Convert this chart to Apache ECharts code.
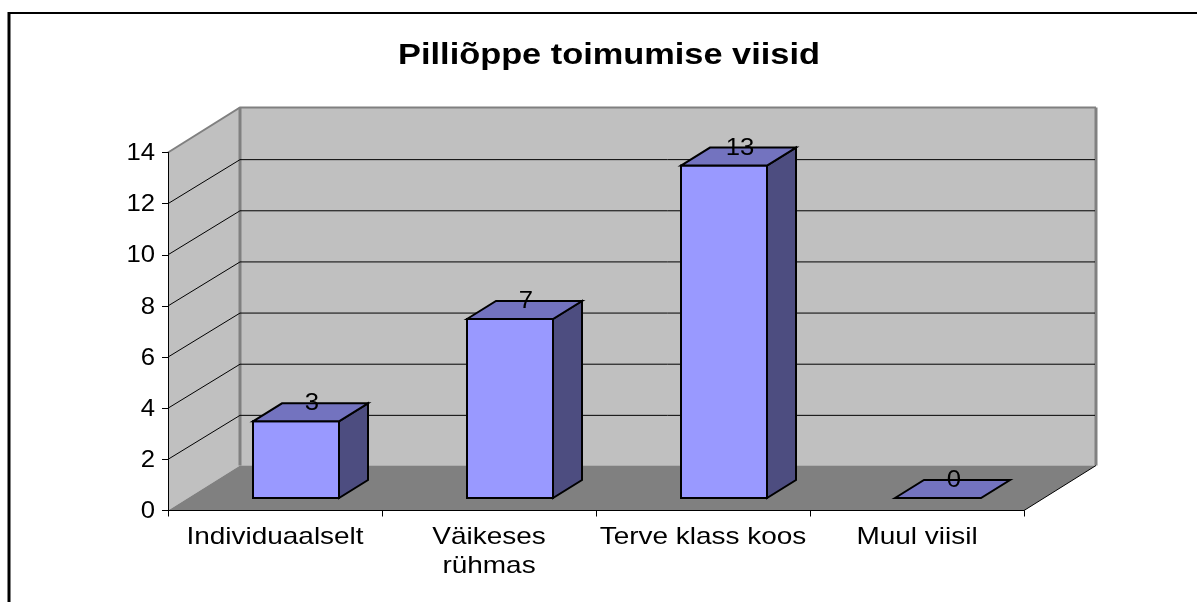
<!DOCTYPE html>
<html>
<head>
<meta charset="utf-8">
<style>html,body{margin:0;padding:0;background:#fff}#chart{width:1197px;height:602px}</style>
<script src="https://cdn.jsdelivr.net/npm/echarts@6/dist/echarts.min.js"></script>
</head>
<body>
<div id="chart"></div>
<script>
const titleText = 'Pilliõppe toimumise viisid';
const categories = ['Individuaalselt', 'Väikeses\nrühmas', 'Terve klass koos', 'Muul viisil'];
const values = [3, 7, 13, 0];
const yTicks = [0, 2, 4, 6, 8, 10, 12, 14];

const FONT = '"Liberation Sans", Arial, sans-serif';
const WALL_DX = 72, WALL_DY = 45, GRID_DY = 44;
const BAR_FX = 21, BAR_FY = 12.5, BAR_DX = 29, BAR_DY = 18, BAR_W = 86;
const INK = '#000', EDGE = '#808080';
const TEXT_STRETCH = 1.165, DIGIT_STRETCH = 1.07, TITLE_STRETCH = 1.145;

function poly(points, fill, stroke, lineWidth) {
  return { type: 'polygon', shape: { points }, style: { fill, stroke: stroke || 'none', lineWidth: lineWidth || 0, lineJoin: 'miter' } };
}
function line(points, stroke, lineWidth) {
  return { type: 'polyline', shape: { points }, style: { fill: 'none', stroke, lineWidth } };
}
function label(text, x, y, scaleX, align, verticalAlign) {
  return { type: 'text', x, y, scaleX, z2: 10, style: {
    text, x: 0, y: 0, align, verticalAlign, font: '24px ' + FONT, lineHeight: 29, fill: '#000'
  }};
}

function renderWalls(params, api) {
  const c = params.coordSys;
  const x0 = c.x, x1 = c.x + c.width, yTop = c.y, yBot = c.y + c.height;
  const d = WALL_DX, h = WALL_DY;
  return { type: 'group', children: [
    poly([[x0, yTop], [x0 + d, yTop - h], [x0 + d, yBot - h], [x0, yBot]], '#c0c0c0'),
    poly([[x0 + d, yTop - h], [x1 + d, yTop - h], [x1 + d, yBot - h], [x0 + d, yBot - h]], '#c0c0c0'),
    poly([[x0, yBot], [x0 + d, yBot - h], [x1 + d, yBot - h], [x1, yBot]], '#808080'),
    line([[x0, yTop], [x0 + d, yTop - h], [x1 + d, yTop - h]], EDGE, 2),
    line([[x1 + d, yTop - h], [x1 + d, yBot - h]], EDGE, 3),
    line([[x0 + d, yTop - h], [x0 + d, yBot - h]], EDGE, 3),
    line([[x1, yBot], [x1 + d, yBot - h]], INK, 1)
  ]};
}

function renderGrid(params, api) {
  const c = params.coordSys;
  const y = api.coord([0, api.value(0)])[1];
  const x0 = c.x, x1 = c.x + c.width;
  return line([[x0, y], [x0 + WALL_DX, y - GRID_DY], [x1 + WALL_DX - 1, y - GRID_DY]], '#000', 1);
}

function renderBar(params, api) {
  const cx = api.coord([api.value(0), 0])[0];
  const v = api.value(1);
  const yb = api.coord([0, 0])[1] - BAR_FY;
  const yt = api.coord([0, v])[1] - BAR_FY;
  const l = cx + BAR_FX - BAR_W / 2, r = l + BAR_W;
  const dx = BAR_DX, dy = BAR_DY;
  const children = [];
  if (v > 0) {
    children.push(poly([[l, yt], [r, yt], [r, yb], [l, yb]], '#9999ff', INK, 2));
    children.push(poly([[r, yt], [r + dx, yt - dy], [r + dx, yb - dy], [r, yb]], '#4d4d80', INK, 2));
  }
  children.push(poly([[l, yt], [l + dx, yt - dy], [r + dx, yt - dy], [r, yt]], '#7373bf', INK, 2));
  children.push(label(String(v), cx + 37, yt - dy + 0.5, DIGIT_STRETCH, 'center', 'middle'));
  return { type: 'group', children };
}

function renderCategoryLabel(params, api) {
  const i = api.value(0);
  const p = api.coord([i, 0]);
  return label(categories[i], p[0], p[1] + 12, TEXT_STRETCH, 'center', 'top');
}

function renderValueLabel(params, api) {
  const v = api.value(0);
  const c = params.coordSys;
  return label(String(v), c.x - 13, api.coord([0, v])[1] + 1, DIGIT_STRETCH, 'right', 'middle');
}

const chart = echarts.init(document.getElementById('chart'), null, { renderer: 'canvas' });
chart.setOption({
  animation: false,
  backgroundColor: '#fff',
  grid: { left: 168, top: 152.5, width: 856, height: 358, containLabel: false },
  xAxis: {
    type: 'category', data: categories, z: 5,
    axisLine: { show: true, lineStyle: { color: '#000', width: 1 } },
    axisTick: { show: true, length: 6, lineStyle: { color: '#000' }, alignWithLabel: false },
    axisLabel: { show: false },
    splitLine: { show: false }
  },
  yAxis: {
    type: 'value', min: 0, max: 14, interval: 2, z: 5,
    axisLine: { show: true, lineStyle: { color: '#000', width: 1 } },
    axisTick: { show: true, length: 6, lineStyle: { color: '#000' } },
    axisLabel: { show: false },
    splitLine: { show: false }
  },
  graphic: [
    { type: 'text', x: 609, y: 56, scaleX: TITLE_STRETCH, z: 100, style: {
      text: titleText, x: 0, y: 0, align: 'center', verticalAlign: 'middle',
      font: 'bold 30px ' + FONT, fill: '#000'
    }},
    { type: 'line', shape: { x1: 8, y1: 13, x2: 1197, y2: 13 }, style: { stroke: '#000', lineWidth: 2 }, z: 100 },
    { type: 'line', shape: { x1: 9, y1: 12, x2: 9, y2: 602 }, style: { stroke: '#000', lineWidth: 3 }, z: 100 }
  ],
  series: [
    { type: 'custom', coordinateSystem: 'cartesian2d', renderItem: renderWalls, data: [[0, 0]], encode: { x: 0, y: 1 }, clip: false, silent: true, z: 1 },
    { type: 'custom', coordinateSystem: 'cartesian2d', renderItem: renderGrid, data: yTicks.slice(1, -1).map(v => [v]), encode: { y: 0 }, clip: false, silent: true, z: 2 },
    { type: 'custom', coordinateSystem: 'cartesian2d', renderItem: renderBar, data: values.map((v, i) => [i, v]), encode: { x: 0, y: 1 }, clip: false, silent: true, z: 3 },
    { type: 'custom', coordinateSystem: 'cartesian2d', renderItem: renderCategoryLabel, data: categories.map((c, i) => [i]), encode: { x: 0 }, clip: false, silent: true, z: 4 },
    { type: 'custom', coordinateSystem: 'cartesian2d', renderItem: renderValueLabel, data: yTicks.map(v => [v]), encode: { y: 0 }, clip: false, silent: true, z: 4 }
  ]
});
</script>
</body>
</html>
